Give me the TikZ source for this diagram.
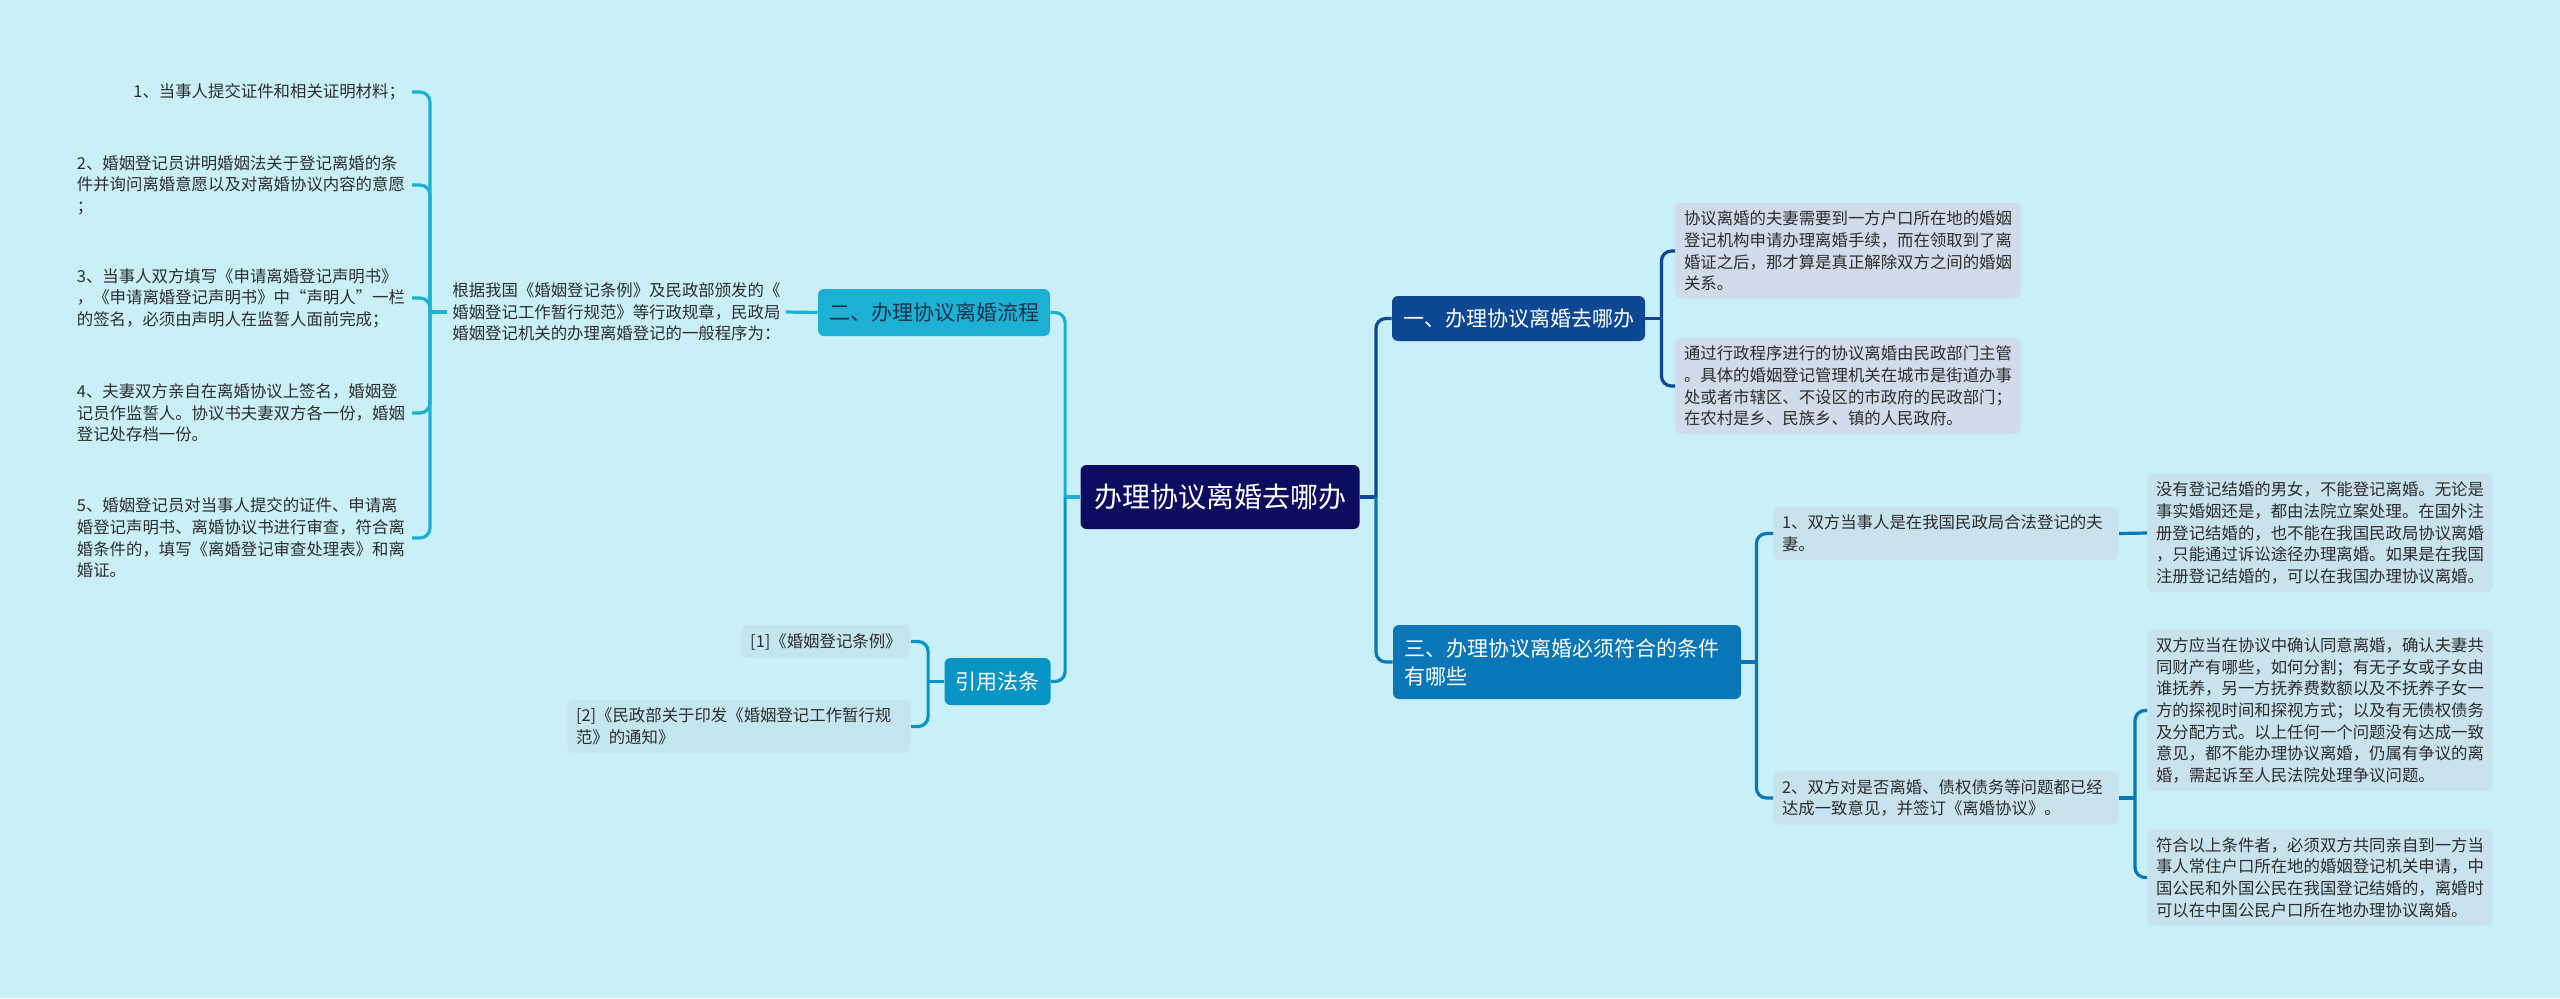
\documentclass[tikz,border=0pt]{standalone}
\usepackage{fontspec}
\setmainfont{Noto Sans CJK SC}
\usetikzlibrary{positioning}
\definecolor{bgcyan}{RGB}{201,240,248}
\definecolor{navy}{RGB}{12,12,96}
\definecolor{flowcyan}{RGB}{28,176,212}
\definecolor{lawblue}{RGB}{8,148,196}
\definecolor{wheredark}{RGB}{14,72,148}
\definecolor{condblue}{RGB}{9,118,184}
\definecolor{whereleaf}{RGB}{208,220,234}
\definecolor{condleaf}{RGB}{200,226,238}
\definecolor{lawleaf}{RGB}{196,230,241}
\definecolor{leaftext}{RGB}{45,45,45}
\definecolor{flowtext}{RGB}{30,52,74}

\tikzset{
  leaftxt/.style={font=\fontsize{8.2pt}{10.8pt}\selectfont, text=leaftext, align=left},
  leafbox/.style={leaftxt, rounded corners=3pt, inner xsep=4.3pt, inner ysep=4pt, text width=164pt},
  topic/.style={font=\fontsize{10.5pt}{14pt}\selectfont, text=white, rounded corners=3pt, inner xsep=5.5pt},
  link/.style={line width=1.6pt, rounded corners=5pt},
}

\begin{document}
\begin{tikzpicture}[x=0.5pt,y=-0.5pt]
\useasboundingbox (0,0) rectangle (2560,998);
\fill[bgcyan] (0,0) rectangle (2560,998);

\node(root)[topic, fill=navy, font=\fontsize{14pt}{16pt}\selectfont, minimum width=139.5pt, minimum height=32pt] at (1220,497) {办理协议离婚去哪办};

\node(flow)[topic, fill=flowcyan, text=flowtext, minimum width=116pt, minimum height=23.5pt] at (934,312.5) {二、办理协议离婚流程};
\node(law)[topic, fill=lawblue, minimum width=52.5pt, minimum height=23.5pt] at (997.5,681.5) {引用法条};
\node(where)[topic, fill=wheredark, minimum width=125.5pt, minimum height=22.5pt] at (1518.5,318.5) {一、办理协议离婚去哪办};
\node(cond)[topic, fill=condblue, align=left, text width=163pt, minimum height=37pt] at (1567,662) {三、办理协议离婚必须符合的条件\\有哪些};

\node(p)[leaftxt, anchor=west, inner xsep=2.5pt] at (447,312) {根据我国《婚姻登记条例》及民政部颁发的《\\婚姻登记工作暂行规范》等行政规章，民政局\\婚姻登记机关的办理离婚登记的一般程序为：};
\node(i1)[leaftxt, anchor=east] at (412,92) {1、当事人提交证件和相关证明材料；};
\node(i2)[leaftxt, anchor=east] at (412,185) {2、婚姻登记员讲明婚姻法关于登记离婚的条\\件并询问离婚意愿以及对离婚协议内容的意愿\\；};
\node(i3)[leaftxt, anchor=east] at (412,298) {3、当事人双方填写《申请离婚登记声明书》\\，《申请离婚登记声明书》中“声明人”一栏\\的签名，必须由声明人在监誓人面前完成；};
\node(i4)[leaftxt, anchor=east] at (412,413) {4、夫妻双方亲自在离婚协议上签名，婚姻登\\记员作监誓人。协议书夫妻双方各一份，婚姻\\登记处存档一份。};
\node(i5)[leaftxt, anchor=east] at (412,538) {5、婚姻登记员对当事人提交的证件、申请离\\婚登记声明书、离婚协议书进行审查，符合离\\婚条件的，填写《离婚登记审查处理表》和离\\婚证。};

\node(r1)[leaftxt, fill=lawleaf, rounded corners=3pt, inner xsep=4.5pt, inner ysep=4pt, anchor=east] at (911,641.5) {[1]《婚姻登记条例》};
\node(r2)[leafbox, fill=lawleaf, text width=163pt, anchor=east] at (911,726.5) {[2]《民政部关于印发《婚姻登记工作暂行规\\范》的通知》};

\node(a)[leafbox, fill=whereleaf, anchor=west] at (1675,251) {协议离婚的夫妻需要到一方户口所在地的婚姻\\登记机构申请办理离婚手续，而在领取到了离\\婚证之后，那才算是真正解除双方之间的婚姻\\关系。};
\node(b)[leafbox, fill=whereleaf, anchor=west] at (1675,386) {通过行政程序进行的协议离婚由民政部门主管\\。具体的婚姻登记管理机关在城市是街道办事\\处或者市辖区、不设区的市政府的民政部门；\\在农村是乡、民族乡、镇的人民政府。};

\node(c1)[leafbox, fill=condleaf, anchor=west] at (1773,533.5) {1、双方当事人是在我国民政局合法登记的夫\\妻。};
\node(c2)[leafbox, fill=condleaf, anchor=west] at (1773,798) {2、双方对是否离婚、债权债务等问题都已经\\达成一致意见，并签订《离婚协议》。};

\node(d1)[leafbox, fill=condleaf, anchor=west] at (2147,533) {没有登记结婚的男女，不能登记离婚。无论是\\事实婚姻还是，都由法院立案处理。在国外注\\册登记结婚的，也不能在我国民政局协议离婚\\，只能通过诉讼途径办理离婚。如果是在我国\\注册登记结婚的，可以在我国办理协议离婚。};
\node(d2)[leafbox, fill=condleaf, anchor=west] at (2147,710.5) {双方应当在协议中确认同意离婚，确认夫妻共\\同财产有哪些，如何分割；有无子女或子女由\\谁抚养，另一方抚养费数额以及不抚养子女一\\方的探视时间和探视方式；以及有无债权债务\\及分配方式。以上任何一个问题没有达成一致\\意见，都不能办理协议离婚，仍属有争议的离\\婚，需起诉至人民法院处理争议问题。};
\node(d3)[leafbox, fill=condleaf, anchor=west] at (2147,877.5) {符合以上条件者，必须双方共同亲自到一方当\\事人常住户口所在地的婚姻登记机关申请，中\\国公民和外国公民在我国登记结婚的，离婚时\\可以在中国公民户口所在地办理协议离婚。};

\draw[link, flowcyan] (root.west) -- ++(-15,0) coordinate (jl);
\draw[link, flowcyan] (jl) |- (flow.east);
\draw[link, lawblue] (jl) |- (law.east);

\draw[link, flowcyan] (flow.west) -- (p.east);
\draw[link, flowcyan] (p.west) -- ++(-17,0) coordinate (jp);
\draw[link, flowcyan] (jp) |- (i1.east);
\draw[link, flowcyan] (jp) |- (i2.east);
\draw[link, flowcyan] (jp) |- (i3.east);
\draw[link, flowcyan] (jp) |- (i4.east);
\draw[link, flowcyan] (jp) |- (i5.east);

\draw[link, lawblue] (law.west) -- ++(-16,0) coordinate (jr);
\draw[link, lawblue] (jr) |- (r1.east);
\draw[link, lawblue] (jr) |- (r2.east);

\draw[link, wheredark] (root.east) -- ++(16,0) coordinate (jm);
\draw[link, wheredark] (jm) |- (where.west);
\draw[link, condblue] (jm) |- (cond.west);

\draw[link, wheredark] (where.east) -- ++(16,0) coordinate (jw);
\draw[link, wheredark] (jw) |- (a.west);
\draw[link, wheredark] (jw) |- (b.west);

\draw[link, condblue] (cond.east) -- ++(15,0) coordinate (jc);
\draw[link, condblue] (jc) |- (c1.west);
\draw[link, condblue] (jc) |- (c2.west);

\draw[link, condblue] (c1.east) -- (d1.west);
\draw[link, condblue] (c2.east) -- ++(16,0) coordinate (jd);
\draw[link, condblue] (jd) |- (d2.west);
\draw[link, condblue] (jd) |- (d3.west);
\end{tikzpicture}
\end{document}
